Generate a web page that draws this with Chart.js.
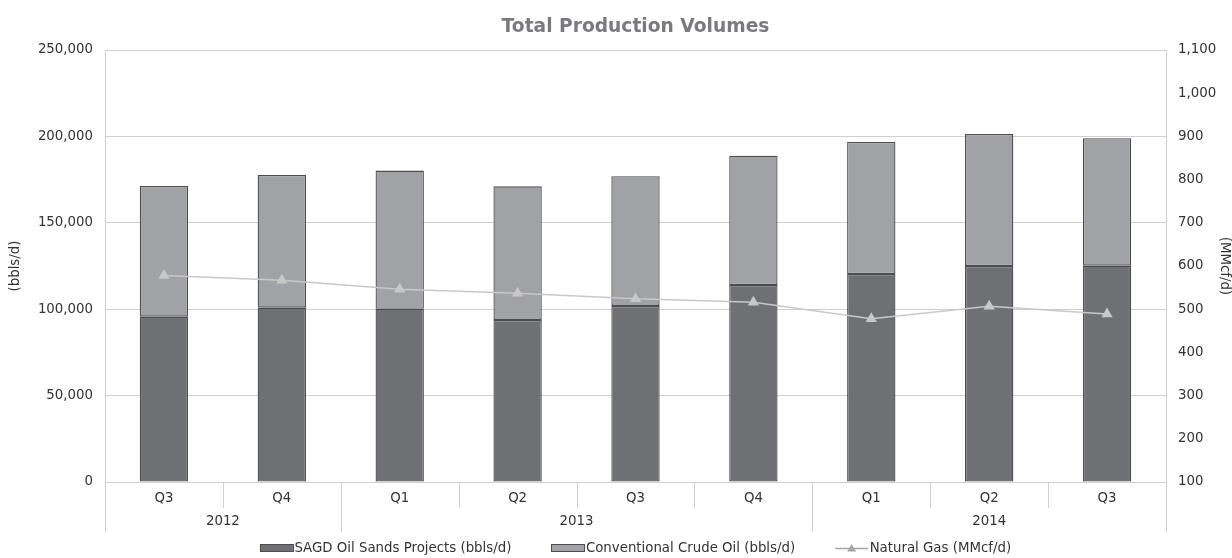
<!DOCTYPE html>
<html>
<head>
<meta charset="utf-8">
<script src="https://cdn.jsdelivr.net/npm/chart.js@4/dist/chart.umd.min.js"></script>
<style>
  html, body { margin: 0; padding: 0; background: #ffffff; }
  #wrap { width: 1232px; height: 558px; position: relative; }
</style>
</head>
<body>
<div id="wrap"><canvas id="c"></canvas></div>
<script>
// ---- data ----
const quarters = ['Q3', 'Q4', 'Q1', 'Q2', 'Q3', 'Q4', 'Q1', 'Q2', 'Q3'];
const yearLabels = ['2012', '2013', '2014'];
const yearSpans = [2, 4, 3];
const sagd = [95700, 100900, 100300, 93800, 101900, 114000, 120400, 125000, 125200];
const conventional = [75600, 76800, 79900, 77300, 75000, 74800, 76400, 76400, 73700];
const naturalGas = [578, 567, 546, 537, 524, 516, 478, 507, 489];

const leftTicks = { min: 0, max: 250000, step: 50000 };
const rightTicks = { min: 100, max: 1100, step: 100 };

const FONT = "'DejaVu Sans', Verdana, sans-serif";
const FS = 13.33;
const TEXT = '#333333';
const GRID = '#d0d0d0';
const BAR_BORDER = '#4d4d50';

const categoryAxisPlugin = {
  id: 'categoryAxis',
  afterDraw(chart) {
    const x = chart.scales.x;
    const ctx = chart.ctx;
    const bottom = chart.chartArea.bottom;
    ctx.save();
    ctx.strokeStyle = GRID;
    ctx.lineWidth = 1;
    for (let i = 0; i <= quarters.length; i++) {
      const px = Math.round(x.getPixelForValue(i - 0.5)) + 0.5;
      ctx.beginPath(); ctx.moveTo(px, bottom); ctx.lineTo(px, bottom + 26); ctx.stroke();
    }
    let start = 0;
    const bounds = [0];
    yearSpans.forEach(s => { start += s; bounds.push(start); });
    bounds.forEach(b => {
      const px = Math.round(x.getPixelForValue(b - 0.5)) + 0.5;
      ctx.beginPath(); ctx.moveTo(px, bottom); ctx.lineTo(px, bottom + 50); ctx.stroke();
    });
    ctx.fillStyle = TEXT;
    ctx.font = FS + 'px ' + FONT;
    ctx.textAlign = 'center';
    ctx.textBaseline = 'middle';
    yearLabels.forEach((lab, k) => {
      const mid = (bounds[k] + bounds[k + 1] - 1) / 2;
      ctx.fillText(lab, x.getPixelForValue(mid), bottom + 40);
    });
    ctx.restore();
  }
};

const titlePlugin = {
  id: 'areaTitle',
  afterDraw(chart) {
    const ctx = chart.ctx;
    const ca = chart.chartArea;
    ctx.save();
    ctx.fillStyle = '#7a7a7e';
    ctx.font = 'bold 18.67px ' + FONT;
    ctx.textAlign = 'center';
    ctx.textBaseline = 'middle';
    ctx.fillText('Total Production Volumes', (ca.left + ca.right) / 2, 27);
    ctx.restore();
  }
};

const legendOrder = [1, 2, 0];
const legendPlugin = {
  id: 'customLegend',
  afterDraw(chart) {
    const ctx = chart.ctx;
    const ca = chart.chartArea;
    const symW = 33, symGap = 1.5, itemGap = 40, y = 548;
    ctx.save();
    ctx.font = FS + 'px ' + FONT;
    const items = legendOrder.map(i => {
      const ds = chart.data.datasets[i];
      return { ds, w: ctx.measureText(ds.label).width };
    });
    let total = 0;
    items.forEach((it, k) => { total += symW + symGap + it.w + (k < items.length - 1 ? itemGap : 0); });
    let cx = (ca.left + ca.right) / 2 - total / 2;
    items.forEach(it => {
      const ds = it.ds;
      if (ds.type === 'line') {
        ctx.strokeStyle = '#a6a6a6';
        ctx.lineWidth = 1.5;
        ctx.beginPath(); ctx.moveTo(cx, y + 0.5); ctx.lineTo(cx + symW, y + 0.5); ctx.stroke();
        ctx.fillStyle = '#a6a6a6';
        const mx = cx + symW / 2;
        ctx.beginPath(); ctx.moveTo(mx, y - 4); ctx.lineTo(mx + 4.5, y + 3.5); ctx.lineTo(mx - 4.5, y + 3.5); ctx.closePath(); ctx.fill();
      } else {
        ctx.fillStyle = ds.backgroundColor;
        ctx.fillRect(cx, y - 3.5, symW, 7);
        ctx.strokeStyle = BAR_BORDER;
        ctx.lineWidth = 1;
        ctx.strokeRect(Math.round(cx) + 0.5, y - 3.5, symW, 7);
      }
      cx += symW + symGap;
      ctx.fillStyle = TEXT;
      ctx.textAlign = 'left';
      ctx.textBaseline = 'middle';
      ctx.fillText(ds.label, cx, y + 1);
      cx += it.w + itemGap;
    });
    ctx.restore();
  }
};

new Chart(document.getElementById('c'), {
  type: 'bar',
  data: {
    labels: quarters,
    datasets: [
      {
        type: 'line',
        label: 'Natural Gas (MMcf/d)',
        data: naturalGas,
        yAxisID: 'y2',
        borderColor: '#c8c8c8',
        backgroundColor: '#c8c8c8',
        borderWidth: 1.5,
        pointStyle: 'triangle',
        pointRadius: 6.5,
        pointBorderWidth: 0,
        pointBackgroundColor: '#c8c8c8',
        tension: 0,
        order: 0
      },
      {
        label: 'SAGD Oil Sands Projects (bbls/d)',
        data: sagd,
        backgroundColor: '#6f7074',
        borderColor: BAR_BORDER,
        borderWidth: 1.3,
        borderSkipped: false,
        barPercentage: 0.41,
        categoryPercentage: 1,
        yAxisID: 'y',
        order: 1
      },
      {
        label: 'Conventional Crude Oil (bbls/d)',
        data: conventional,
        backgroundColor: '#a1a2a6',
        borderColor: BAR_BORDER,
        borderWidth: 1.3,
        borderSkipped: false,
        barPercentage: 0.41,
        categoryPercentage: 1,
        yAxisID: 'y',
        order: 1
      }
    ]
  },
  options: {
    responsive: true,
    maintainAspectRatio: false,
    animation: false,
    layout: { padding: { top: 50, left: 0, right: 0, bottom: 26 } },
    plugins: {
      title: { display: false },
      tooltip: { enabled: false },
      legend: { display: false }
    },
    scales: {
      x: {
        stacked: true,
        offset: true,
        grid: { display: false, drawTicks: false },
        border: { display: true, color: GRID },
        ticks: { color: TEXT, font: { family: FONT, size: FS }, padding: 9, maxRotation: 0 },
        afterFit(scale) { scale.height = 50; }
      },
      y: {
        stacked: true,
        position: 'left',
        min: leftTicks.min,
        max: leftTicks.max,
        ticks: {
          stepSize: leftTicks.step,
          color: TEXT,
          font: { family: FONT, size: FS },
          padding: 12,
          callback: v => v.toLocaleString('en-US')
        },
        grid: { color: GRID, drawTicks: false },
        border: { display: true, color: GRID },
        title: { display: true, text: '(bbls/d)', color: TEXT, font: { family: FONT, size: FS }, padding: { top: 8, bottom: 0 } },
        afterFit(scale) { scale.width = 105; }
      },
      y2: {
        position: 'right',
        min: rightTicks.min,
        max: rightTicks.max,
        ticks: {
          stepSize: rightTicks.step,
          color: TEXT,
          font: { family: FONT, size: FS },
          padding: 12,
          callback: v => v.toLocaleString('en-US')
        },
        grid: { drawOnChartArea: false, drawTicks: false },
        border: { display: true, color: GRID },
        title: { display: true, text: '(MMcf/d)', color: TEXT, font: { family: FONT, size: FS }, padding: { top: 0, bottom: 0 } },
        afterFit(scale) { scale.width = 66; }
      }
    }
  },
  plugins: [categoryAxisPlugin, titlePlugin, legendPlugin]
});
</script>
</body>
</html>
